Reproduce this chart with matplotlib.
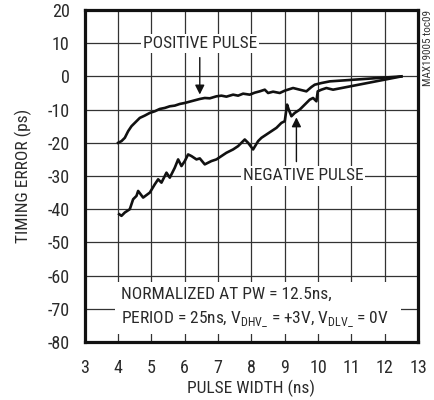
import matplotlib
matplotlib.use('Agg')
import matplotlib.pyplot as plt
from matplotlib import font_manager
from matplotlib.patches import Rectangle

# narrow sans if there is one, else DejaVu condensed
names = set(f.name for f in font_manager.fontManager.ttflist)
narrow = [n for n in ['Liberation Sans Narrow', 'Roboto Condensed', 'Open Sans Condensed',
                      'Arial Narrow'] if n in names]
plt.rcParams['font.family'] = narrow + ['DejaVu Sans']
plt.rcParams['font.stretch'] = 'condensed'
plt.rcParams['axes.unicode_minus'] = False

# positive pulse
pos_x = [4.0, 4.1, 4.2, 4.3, 4.4, 4.5, 4.65, 4.8, 4.95, 5.1, 5.25, 5.4, 5.55, 5.7,
         5.85, 6.0, 6.15, 6.3, 6.45, 6.6, 6.75, 6.95, 7.1, 7.25, 7.45, 7.6, 7.75,
         7.95, 8.1, 8.25, 8.4, 8.5, 8.65, 8.85, 9.0, 9.25, 9.45, 9.65, 9.8, 9.9,
         10.1, 10.35, 12.5]
pos_y = [-20, -19.5, -18.5, -16.5, -15, -14, -12.5, -11.8, -11, -10.5, -9.8, -9.5,
         -9, -8.8, -8.3, -8, -7.6, -7.2, -6.8, -6.5, -6.6, -6, -5.8, -6.1, -5.5,
         -5.8, -5.2, -5.5, -4.9, -4.5, -4.0, -5.0, -4.6, -5, -4.3, -3.5, -4, -4.5,
         -3.2, -2.5, -2.0, -1.5, 0]

# negative pulse
neg_x = [4.03, 4.1, 4.2, 4.35, 4.45, 4.55, 4.6, 4.75, 4.95, 5.1, 5.2, 5.3, 5.45,
         5.55, 5.7, 5.8, 5.9, 6.0, 6.1, 6.2, 6.35, 6.45, 6.6, 6.8, 6.95, 7.1,
         7.25, 7.45, 7.6, 7.8, 7.9, 8.05, 8.2, 8.3, 8.45, 8.6, 8.75, 8.9, 9.0,
         9.07, 9.12, 9.2, 9.3, 9.45, 9.6, 9.75, 9.85, 9.95, 9.99, 10.1, 10.25,
         10.45, 12.5]
neg_y = [-41.5, -42, -41, -40, -37, -36, -34.5, -36.5, -35, -32.5, -31, -32, -29,
         -30.5, -27.5, -25, -27, -25.5, -23.5, -24, -25, -24.7, -26.5, -25.5, -25,
         -24, -23, -22, -21, -19, -20, -22, -19.5, -18.5, -17.5, -16.5, -15.5,
         -14, -13.5, -8.5, -10, -12, -11, -10, -8.5, -7, -6.5, -7.5, -4.5, -4,
         -3.5, -4, 0]

xticks = list(range(3, 14))
yticks = list(range(-80, 21, 10))

txt = '#2a2a2a'
fig = plt.figure(figsize=(4.35, 4.0), dpi=100)
ax = fig.add_axes([0.195, 0.145, 0.766, 0.83])

ax.set_xlim(3, 13)
ax.set_ylim(-80, 20)
ax.set_xticks(xticks)
ax.set_yticks(yticks)
ax.tick_params(length=0, labelsize=13, colors=txt)
ax.tick_params(axis='y', pad=11)
ax.tick_params(axis='x', pad=12)
ax.grid(True, color='#333333', lw=0.9)
ax.set_axisbelow(True)
for s in ax.spines.values():
    s.set_linewidth(2.3)
    s.set_color('#111111')

ax.plot(pos_x, pos_y, color='#111111', lw=1.9, zorder=3)
ax.plot(neg_x, neg_y, color='#111111', lw=1.9, zorder=3)

ax.set_xlabel('PULSE WIDTH (ns)', fontsize=12.5, color=txt)
ax.set_ylabel('TIMING ERROR (ps)', fontsize=12.5, color=txt)
ax.xaxis.set_label_coords(0.5, -0.115)
ax.yaxis.set_label_coords(-0.158, 0.5)

# labels sit on the grid lines with a white box
bb = dict(facecolor='white', edgecolor='none', pad=1.5)
ax.text(6.45, 10, 'POSITIVE PULSE', ha='center', va='center', fontsize=12.5,
        color=txt, bbox=bb, zorder=4)
ax.annotate('', xy=(6.45, -6.3), xytext=(6.45, 6.5),
            arrowprops=dict(arrowstyle='-|>', color='#111111', lw=1.0,
                            mutation_scale=14), zorder=4)
ax.text(9.55, -30, 'NEGATIVE PULSE', ha='center', va='center', fontsize=12.5,
        color=txt, bbox=bb, zorder=4)
ax.annotate('', xy=(9.35, -11.5), xytext=(9.35, -26.5),
            arrowprops=dict(arrowstyle='-|>', color='#111111', lw=1.0,
                            mutation_scale=14), zorder=4)

ax.add_patch(Rectangle((3.9, -77.6), 8.6, 15.6, facecolor='white',
                       edgecolor='none', zorder=2))
ax.text(4.1, -65.5, 'NORMALIZED AT PW = 12.5ns,', ha='left', va='center',
        fontsize=12.5, color=txt, zorder=4)
ax.text(4.1, -73, r'PERIOD = 25ns, V$_{\mathregular{DHV\_}}$ = +3V, '
        r'V$_{\mathregular{DLV\_}}$ = 0V', ha='left', va='center',
        fontsize=12.5, color=txt, zorder=4)

fig.text(0.983, 0.975, 'MAX19005 toc09', rotation=90, ha='center', va='top',
         fontsize=8, color='#333333')

fig.savefig('out.png', dpi=100)
